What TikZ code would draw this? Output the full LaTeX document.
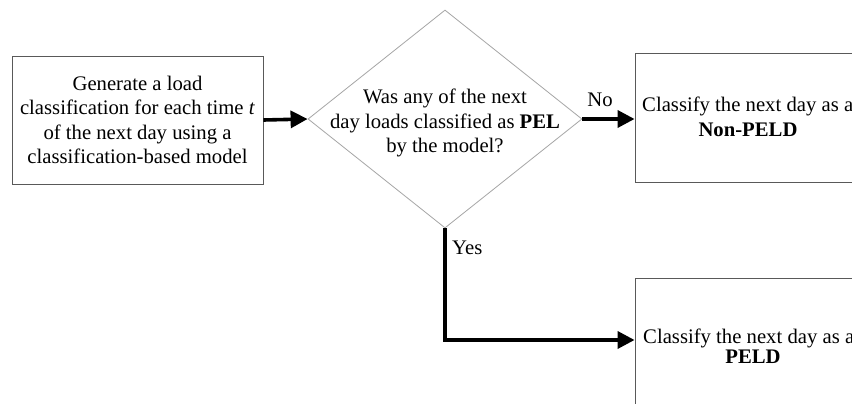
\documentclass[tikz,border=0pt]{standalone}
\usepackage{fontspec}
\setmainfont{Liberation Serif}
\usetikzlibrary{shapes.geometric,arrows.meta}
\begin{document}
\begin{tikzpicture}[x=1pt,y=-1pt,
  every node/.style={font=\fontsize{20.7}{24.5}\selectfont},
  procbox/.style={draw=black!65, line width=0.9pt, rectangle, inner sep=0pt},
  decision/.style={draw=black!35, line width=0.8pt, diamond, inner sep=0pt},
  flow/.style={line width=3.6pt, -{Triangle[length=17pt,width=17pt]}},
  txt/.style={align=center, inner sep=0pt}]
\useasboundingbox[clip] (0,0) rectangle (852,404);
\fill[white] (0,0) rectangle (852,404);
% box 1
\node[procbox, minimum width=251pt, minimum height=128pt] (gen) at (137.5,120) {};
\node[txt] (gentxt) at (gen.center) {Generate a load\\classification for each time \textit{t}\\of the next day using a\\classification-based model};
% decision
\node[decision, minimum width=274pt, minimum height=218pt] (dec) at (445,119) {};
\node[txt] (dectxt) at (445,123) {Was any of the next\\day loads classified as \textbf{PEL}\\by the model?};
% box 2
\node[procbox, minimum width=240pt, minimum height=129pt] (non) at (755,117.5) {};
\node[anchor=base west, inner sep=0pt] (nontxt) at (642,111) {Classify the next day as a};
\node[anchor=base, inner sep=0pt] (nonbold) at (748,136) {\textbf{Non-PELD}};
% box 3
\node[procbox, minimum width=240pt, minimum height=136pt] (peld) at (755,346) {};
\node[anchor=base west, inner sep=0pt] (peldtxt) at (643,343) {Classify the next day as a};
\node[anchor=base, inner sep=0pt] (peldbold) at (753,363) {\textbf{PELD}};
% connectors
\draw[flow] (gen.east) -- (dec.west);
\draw[flow] (dec.east) -- (dec.east -| non.west);
\node[inner sep=0pt] (nolbl) at (600,100) {No};
\coordinate (bend) at (445,340);
\coordinate (peldin) at (peld.west |- bend);
\draw[flow] (dec.south) -- (bend) -- (peldin);
\node[anchor=west, inner sep=0pt] (yeslbl) at (452,248) {Yes};
\end{tikzpicture}
\end{document}
